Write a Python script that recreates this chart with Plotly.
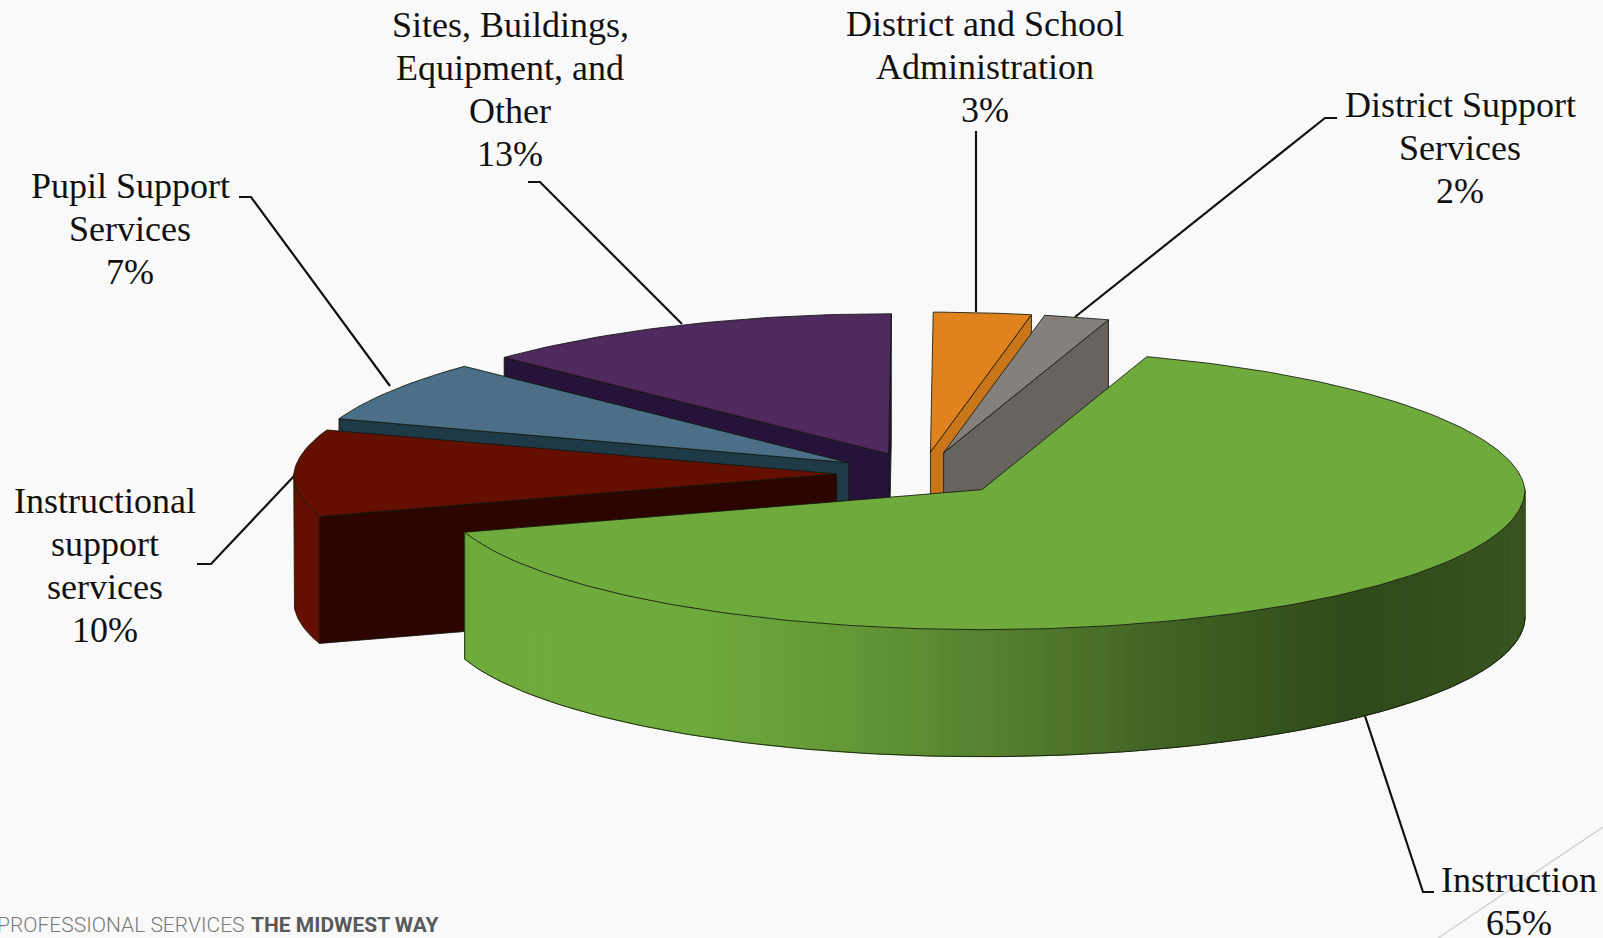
import numpy as np
import plotly.graph_objects as go

# Budget shares, clockwise from the first cut
categories = ["Instruction", "Instructional support services", "Pupil Support Services",
              "Sites, Buildings, Equipment, and Other", "District and School Administration",
              "District Support Services"]
values = [65, 10, 7, 13, 3, 2]
top_colors = ["#6fab3c", "#640f00", "#4a6f87", "#4e2a5e", "#e0831f", "#85807b"]
cut_colors = ["#6fab3c", "#2c0500", "#1f3a47", "#26133a", "#c9761a", "#68635f"]
rim_colors = ["#6fab3c", "#640f00", "#1f3a47", "#26133a", "#c9761a", "#68635f"]
label_lines = [["Instruction", "65%"],
               ["Instructional", "support", "services", "10%"],
               ["Pupil Support", "Services", "7%"],
               ["Sites, Buildings,", "Equipment, and", "Other", "13%"],
               ["District and School", "Administration", "3%"],
               ["District Support", "Services", "2%"]]

# Pie geometry in page pixels
WIDTH, HEIGHT = 1603, 938
START_ANGLE = 18.3
CX, CY = 922.0, 474.0
RX, RY = 543.0, 140.0
EXPLODE = 0.157
DEPTH = 127.0
TAPER = 0.035
BACKGROUND = "#f9f9f9"
EDGE = "rgba(20,25,15,0.85)"

# Horizontal shading of the large slice's outer wall
SHADE_X = [685, 850, 1000, 1177, 1352, 1530]
SHADE_RGB = [(111, 171, 60), (98, 152, 54), (85, 127, 47), (63, 97, 34), (47, 74, 25), (56, 84, 31)]

# Label and leader placement
LABEL_POS = [(1519, 880), (105, 501), (130, 186), (510, 25), (985, 24), (1460, 105)]
LINE_STEP = 43
LEADERS = [[(1365, 716), (1423, 892), (1434, 892)],
           [(197, 564), (211, 564), (295, 475)],
           [(239, 197), (251, 197), (390, 386)],
           [(528, 182), (540, 182), (682, 324)],
           [(976, 131), (976, 312)],
           [(1337, 118), (1325, 118), (1075, 317)]]


def project(angle, ox, oy, radius=1.0, drop=0.0):
    # The far half of the disc narrows slightly with distance
    a = np.radians(angle)
    back = radius * np.cos(a)
    x = ox + radius * np.sin(a) * RX * (1 - TAPER * np.maximum(back, 0))
    y = oy - back * RY + drop
    return x, y


def polygon(fig, xs, ys, fill, line=EDGE, width=1):
    fig.add_trace(go.Scatter(x=list(xs), y=list(ys), mode="lines", fill="toself",
                             fillcolor=fill, line=dict(color=line, width=width),
                             hoverinfo="skip", showlegend=False))


def outline(fig, xs, ys, color=EDGE, width=1):
    fig.add_trace(go.Scatter(x=list(xs), y=list(ys), mode="lines",
                             line=dict(color=color, width=width),
                             hoverinfo="skip", showlegend=False))


def shade(x):
    c = [np.interp(x, SHADE_X, [rgb[i] for rgb in SHADE_RGB]) for i in range(3)]
    return "rgb(%d,%d,%d)" % tuple(round(v) for v in c)


fig = go.Figure()

# Faint corner rule and leader lines sit behind everything else
outline(fig, [WIDTH, 1438], [827, HEIGHT], "#d2d2d2", 1.5)
for pts in LEADERS:
    outline(fig, [p[0] for p in pts], [p[1] for p in pts], "#111111", 2.2)

# Slice angle ranges
bounds = START_ANGLE + np.concatenate([[0], np.cumsum(values)]) * 3.6
spans = [(bounds[i], bounds[i + 1]) for i in range(len(values))]

# Painter's order: back slices first, the large front slice last
for i in [3, 2, 4, 5, 1, 0]:
    a0, a1 = spans[i]
    mid = np.radians((a0 + a1) / 2)
    ox = CX + np.sin(mid) * EXPLODE * RX
    oy = CY - np.cos(mid) * EXPLODE * RY

    # Radial cut walls that face the viewer
    for ang, sign in ((a0, -1), (a1, 1)):
        if sign * np.sin(np.radians(ang)) > 1e-6:
            ex, ey = project(ang, ox, oy)
            polygon(fig, [ox, ex, ex, ox, ox], [oy, ey, ey + DEPTH, oy + DEPTH, oy], cut_colors[i])

    # Outer wall, front half only
    lo, hi = max(a0, 90.0), min(a1, 270.0)
    if lo < hi:
        ts = np.linspace(lo, hi, max(int(hi - lo) + 2, 2))
        if i == 0:
            for t0, t1 in zip(ts[:-1], ts[1:]):
                x0, y0 = project(t0, ox, oy)
                x1, y1 = project(t1, ox, oy)
                col = shade((x0 + x1) / 2)
                polygon(fig, [x0, x1, x1, x0, x0], [y0, y1, y1 + DEPTH, y0 + DEPTH, y0], col, col, 1)
            xe, ye = project(ts, ox, oy)
            outline(fig, xe, ye + DEPTH)
            outline(fig, [xe[-1], xe[-1]], [ye[-1], ye[-1] + DEPTH])
        else:
            xe, ye = project(ts, ox, oy)
            polygon(fig, list(xe) + list(xe[::-1]) + [xe[0]],
                    list(ye) + list(ye[::-1] + DEPTH) + [ye[0]], rim_colors[i])

    # Top face
    ts = np.linspace(a0, a1, max(int(a1 - a0) + 2, 2))
    xe, ye = project(ts, ox, oy)
    polygon(fig, [ox] + list(xe) + [ox], [oy] + list(ye) + [oy], top_colors[i])

# Category labels, one annotation per line for an exact line pitch
annotations = []
for (lx, ly), lines in zip(LABEL_POS, label_lines):
    for n, text in enumerate(lines):
        annotations.append(dict(x=lx, y=ly + n * LINE_STEP, text=text, showarrow=False,
                                xref="x", yref="y", xanchor="center", yanchor="middle",
                                font=dict(family="Liberation Serif", size=36, color="#111111")))

# Footer strapline along the bottom edge
annotations.append(dict(x=247, y=925, text="PROFESSIONAL SERVICES", showarrow=False,
                        xref="x", yref="y", xanchor="right", yanchor="middle",
                        font=dict(family="Roboto", size=21, weight=300, color="#7a7a7a")))
annotations.append(dict(x=249, y=925, text="THE MIDWEST WAY", showarrow=False,
                        xref="x", yref="y", xanchor="left", yanchor="middle",
                        font=dict(family="Roboto", size=21, weight=700, color="#58595b")))

fig.update_layout(
    width=WIDTH, height=HEIGHT, margin=dict(l=0, r=0, t=0, b=0),
    paper_bgcolor=BACKGROUND, plot_bgcolor=BACKGROUND, showlegend=False,
    xaxis=dict(range=[0, WIDTH], visible=False, fixedrange=True),
    yaxis=dict(range=[HEIGHT, 0], visible=False, fixedrange=True),
    annotations=annotations,
)

fig.write_html("out.html")
